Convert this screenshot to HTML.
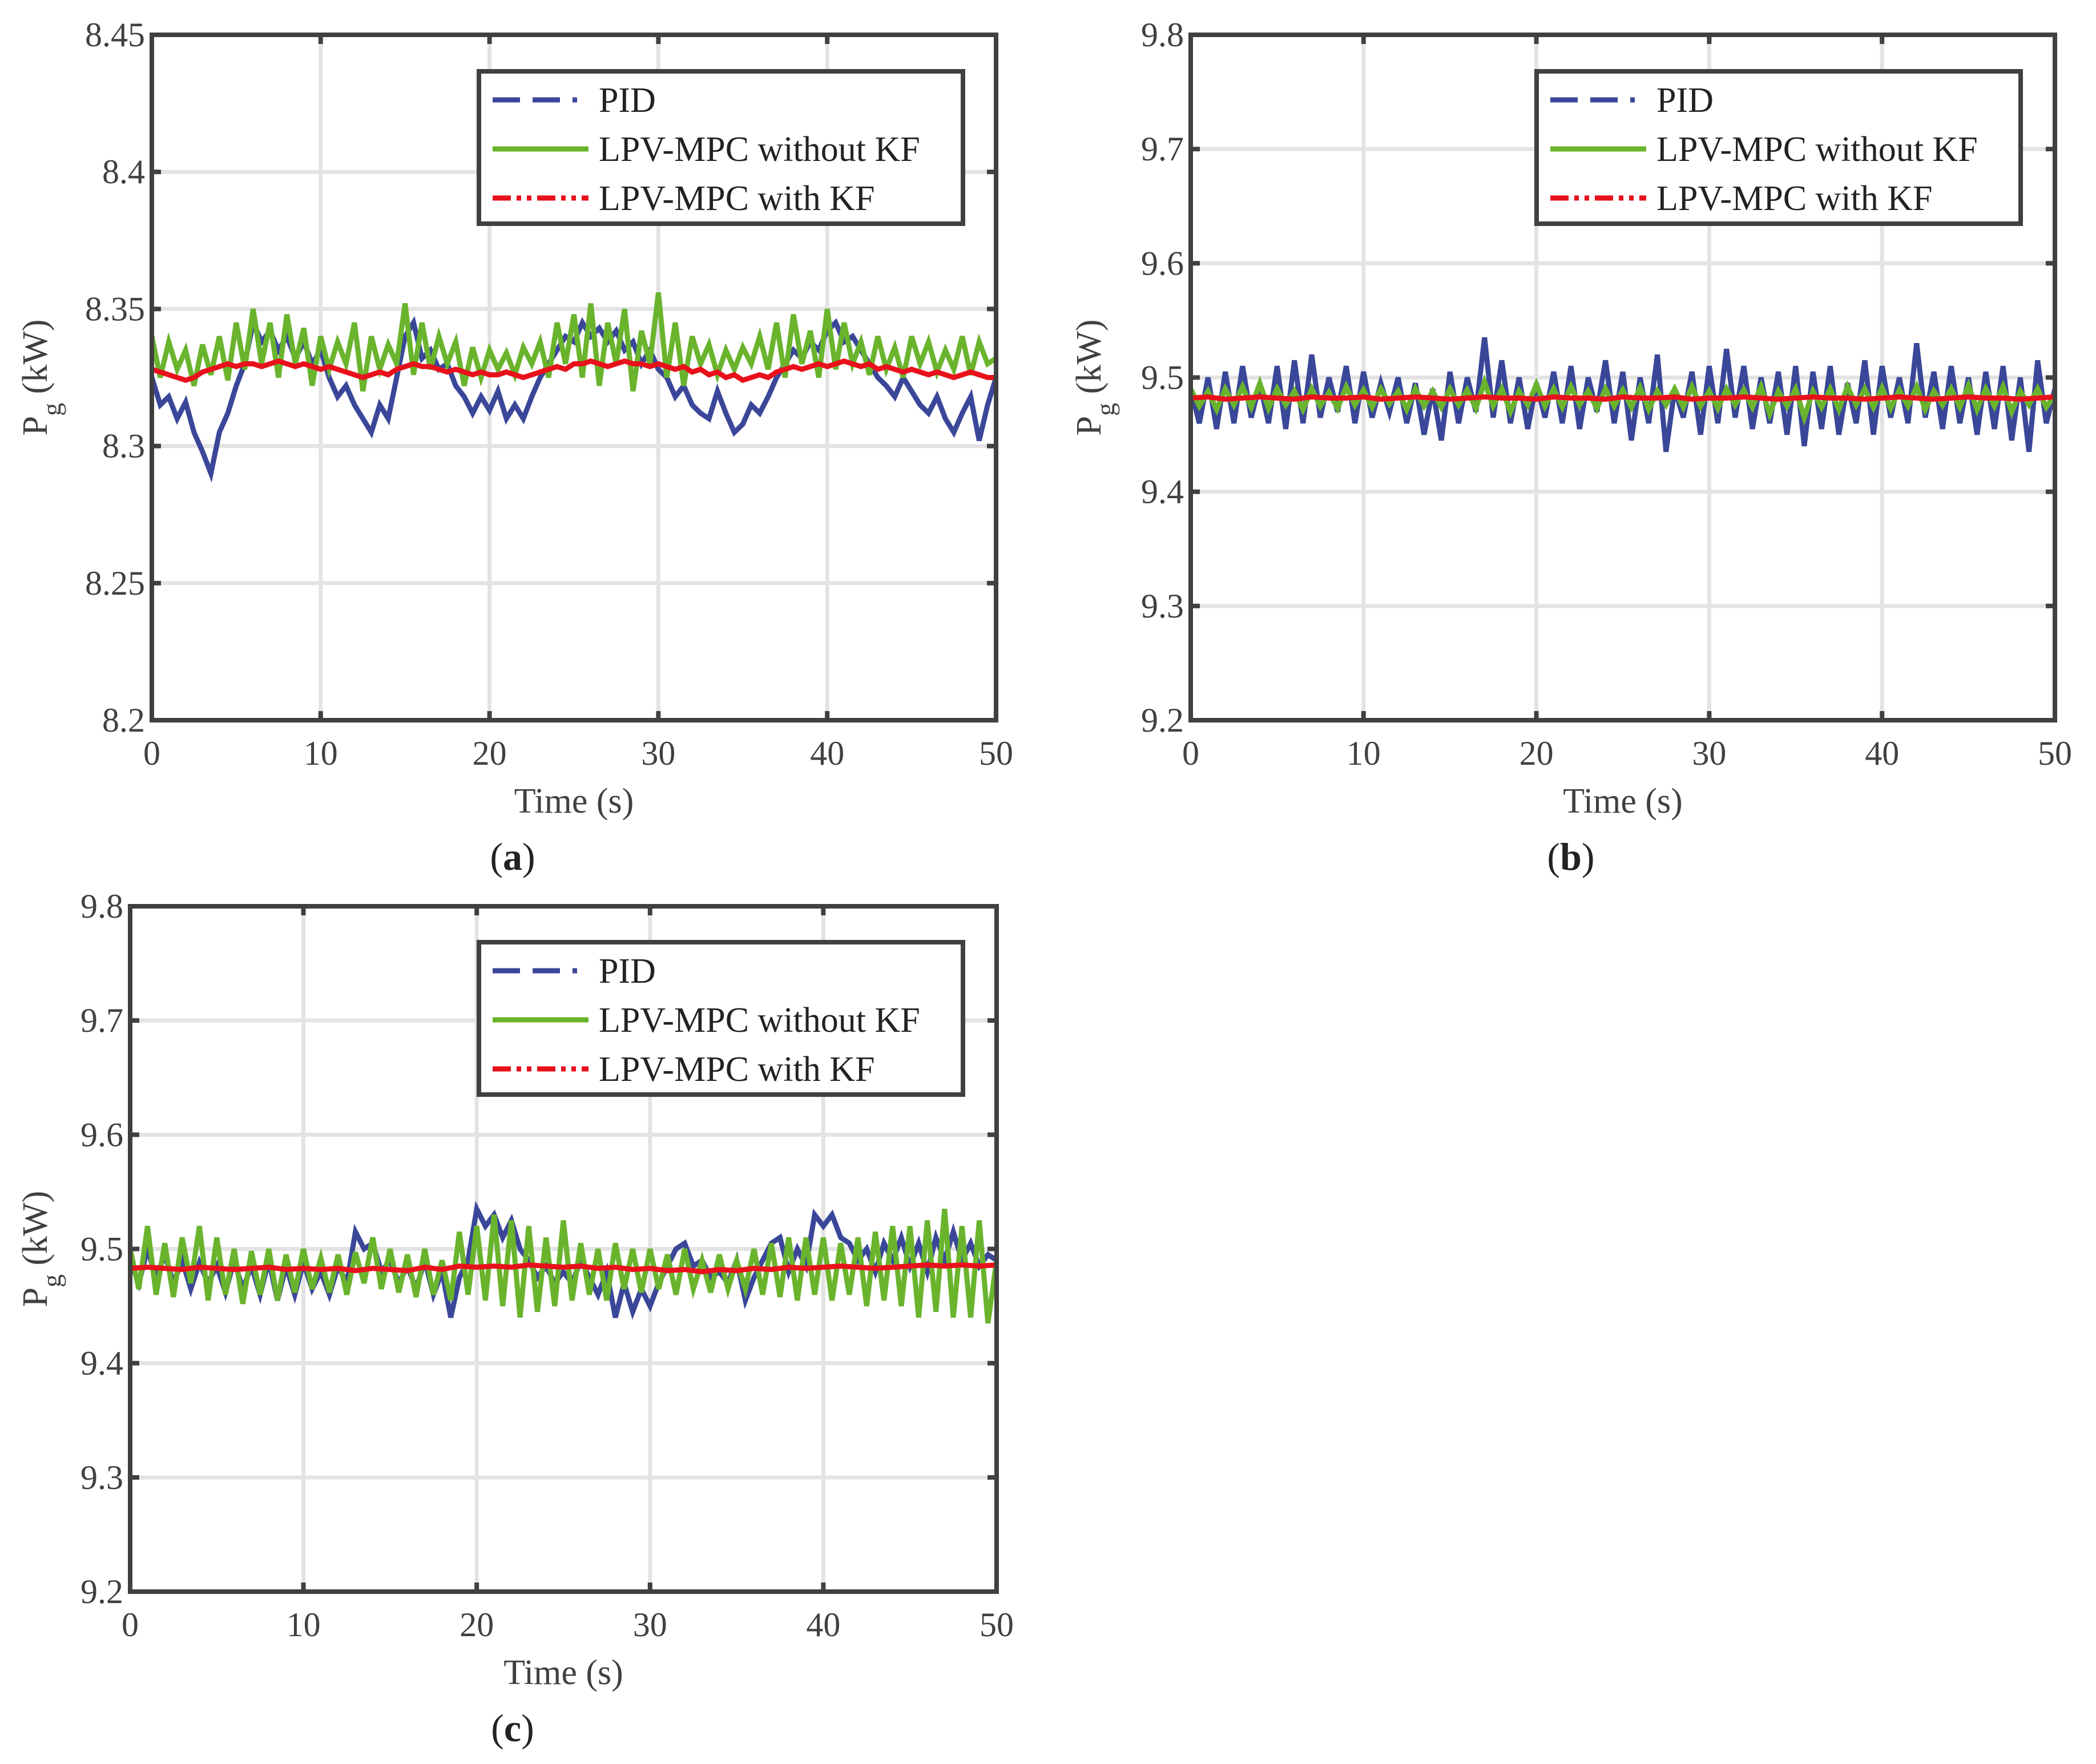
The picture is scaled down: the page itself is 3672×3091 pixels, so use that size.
<!DOCTYPE html>
<html><head><meta charset="utf-8"><style>
html,body{margin:0;padding:0;background:#fff;}
svg{display:block;}
text{font-family:"Liberation Serif","DejaVu Serif",serif;}
</style></head><body>
<svg id="fig" width="3672" height="3091" viewBox="0 0 3672 3091" xmlns="http://www.w3.org/2000/svg" font-family="Liberation Serif, serif"></svg>
<script>
const xTicks=[0,10,20,30,40,50];
const yTicksA=[8.2,8.25,8.3,8.35,8.4,8.45];
const yTickLabelsA=["8.2","8.25","8.3","8.35","8.4","8.45"];
const yTicksB=[9.2,9.3,9.4,9.5,9.6,9.7,9.8];
const yTickLabelsB=["9.2","9.3","9.4","9.5","9.6","9.7","9.8"];
const seriesNames=["PID","LPV-MPC without KF","LPV-MPC with KF"];

const pidA=[8.325,8.315,8.318,8.31,8.316,8.305,8.298,8.29,8.305,8.312,8.322,
8.33,8.345,8.338,8.342,8.335,8.34,8.332,8.338,8.33,8.335,
8.325,8.318,8.322,8.315,8.31,8.305,8.315,8.31,8.325,8.34,
8.345,8.332,8.335,8.328,8.33,8.322,8.318,8.312,8.318,8.313,
8.32,8.31,8.315,8.31,8.318,8.325,8.33,8.335,8.34,8.338,
8.345,8.34,8.343,8.338,8.342,8.335,8.338,8.33,8.335,8.328,
8.325,8.318,8.322,8.315,8.312,8.31,8.32,8.312,8.305,8.308,
8.315,8.312,8.318,8.325,8.33,8.335,8.332,8.338,8.335,8.342,
8.345,8.338,8.34,8.335,8.33,8.325,8.322,8.318,8.325,8.32,
8.315,8.312,8.318,8.31,8.305,8.312,8.318,8.302,8.315,8.325];
const greenA=[8.34,8.325,8.338,8.328,8.335,8.322,8.337,8.326,8.34,8.324,8.345,
8.328,8.35,8.33,8.345,8.325,8.348,8.33,8.343,8.322,8.34,
8.328,8.338,8.33,8.345,8.32,8.34,8.328,8.337,8.33,8.352,
8.326,8.345,8.328,8.34,8.33,8.338,8.322,8.336,8.325,8.335,
8.328,8.334,8.326,8.336,8.33,8.338,8.325,8.345,8.33,8.348,
8.325,8.352,8.322,8.345,8.33,8.35,8.32,8.342,8.33,8.356,
8.325,8.345,8.322,8.34,8.33,8.337,8.326,8.335,8.328,8.336,
8.33,8.34,8.328,8.345,8.325,8.348,8.33,8.342,8.325,8.35,
8.328,8.345,8.33,8.338,8.326,8.34,8.328,8.336,8.325,8.34,
8.33,8.338,8.327,8.335,8.328,8.34,8.326,8.338,8.33,8.332];
const redA=[8.328,8.327,8.326,8.325,8.324,8.325,8.327,8.328,8.329,8.33,8.329,
8.33,8.33,8.329,8.33,8.331,8.33,8.329,8.33,8.329,8.328,
8.329,8.328,8.327,8.326,8.325,8.326,8.327,8.326,8.328,8.329,
8.33,8.329,8.329,8.328,8.327,8.328,8.327,8.326,8.327,8.326,
8.326,8.327,8.326,8.325,8.326,8.327,8.328,8.329,8.328,8.33,
8.33,8.331,8.33,8.329,8.33,8.331,8.33,8.33,8.329,8.33,
8.329,8.328,8.329,8.327,8.328,8.326,8.327,8.325,8.326,8.324,
8.325,8.326,8.325,8.327,8.328,8.329,8.328,8.329,8.33,8.329,
8.33,8.331,8.33,8.329,8.33,8.328,8.329,8.328,8.327,8.328,
8.327,8.326,8.327,8.326,8.325,8.326,8.327,8.326,8.325,8.325];

const pidB=[9.49,9.46,9.5,9.455,9.505,9.46,9.51,9.465,9.495,9.46,9.51,
9.455,9.515,9.46,9.52,9.465,9.5,9.47,9.51,9.46,9.505,
9.465,9.495,9.47,9.5,9.46,9.495,9.45,9.49,9.445,9.505,
9.46,9.5,9.47,9.535,9.465,9.515,9.46,9.5,9.455,9.495,
9.465,9.505,9.46,9.51,9.455,9.5,9.47,9.515,9.46,9.505,
9.445,9.5,9.46,9.52,9.435,9.49,9.465,9.505,9.45,9.51,
9.46,9.525,9.465,9.51,9.455,9.5,9.46,9.505,9.45,9.51,
9.44,9.505,9.455,9.51,9.45,9.495,9.46,9.515,9.45,9.51,
9.465,9.5,9.46,9.53,9.465,9.505,9.455,9.51,9.46,9.5,
9.45,9.505,9.455,9.51,9.445,9.5,9.435,9.515,9.46,9.49];
const greenB=[9.49,9.475,9.488,9.472,9.49,9.476,9.492,9.474,9.495,9.473,9.49,
9.476,9.488,9.472,9.49,9.475,9.487,9.473,9.492,9.476,9.489,
9.474,9.49,9.477,9.488,9.472,9.49,9.475,9.488,9.474,9.49,
9.476,9.489,9.473,9.496,9.475,9.49,9.47,9.488,9.476,9.494,
9.475,9.49,9.474,9.492,9.476,9.488,9.473,9.49,9.475,9.489,
9.474,9.491,9.472,9.488,9.476,9.49,9.474,9.492,9.475,9.488,
9.473,9.49,9.476,9.489,9.474,9.492,9.468,9.488,9.475,9.49,
9.465,9.488,9.474,9.49,9.472,9.492,9.476,9.49,9.474,9.491,
9.473,9.489,9.475,9.492,9.472,9.488,9.476,9.49,9.474,9.493,
9.472,9.49,9.475,9.492,9.47,9.488,9.476,9.49,9.474,9.485];
const redB=[9.482,9.483,9.481,9.482,9.483,9.482,9.481,9.483,9.482,9.482,9.483,
9.481,9.482,9.483,9.482,9.481,9.482,9.483,9.482,9.482,9.481,
9.483,9.482,9.482,9.481,9.483,9.482,9.482,9.483,9.481,9.482,
9.482,9.483,9.482,9.481,9.482,9.483,9.482,9.482,9.481,9.482,
9.483,9.482,9.481,9.482,9.483,9.482,9.482,9.481,9.482,9.483];

const pidC=[9.49,9.47,9.5,9.475,9.495,9.47,9.49,9.465,9.488,9.47,9.485,
9.462,9.49,9.465,9.485,9.46,9.49,9.455,9.485,9.46,9.488,
9.465,9.48,9.46,9.485,9.47,9.515,9.5,9.505,9.48,9.49,
9.47,9.485,9.465,9.49,9.46,9.48,9.44,9.475,9.49,9.535,
9.52,9.53,9.51,9.525,9.5,9.49,9.475,9.485,9.47,9.48,
9.47,9.49,9.475,9.46,9.48,9.44,9.47,9.445,9.465,9.45,
9.47,9.485,9.5,9.505,9.485,9.49,9.475,9.48,9.47,9.49,
9.455,9.475,9.49,9.505,9.51,9.48,9.5,9.485,9.53,9.52,
9.53,9.51,9.505,9.49,9.5,9.48,9.505,9.49,9.51,9.485,
9.505,9.48,9.51,9.49,9.515,9.49,9.505,9.485,9.495,9.49];
const greenC=[9.5,9.465,9.52,9.46,9.505,9.458,9.51,9.47,9.52,9.455,9.51,
9.46,9.5,9.452,9.498,9.46,9.5,9.455,9.495,9.462,9.5,
9.465,9.492,9.462,9.495,9.46,9.497,9.47,9.51,9.465,9.5,
9.462,9.495,9.458,9.5,9.46,9.49,9.455,9.515,9.46,9.52,
9.455,9.53,9.45,9.525,9.44,9.52,9.445,9.51,9.45,9.525,
9.455,9.505,9.46,9.5,9.455,9.505,9.465,9.5,9.462,9.5,
9.465,9.495,9.46,9.5,9.465,9.49,9.462,9.495,9.465,9.49,
9.465,9.5,9.46,9.505,9.458,9.51,9.455,9.51,9.46,9.51,
9.455,9.505,9.46,9.51,9.45,9.515,9.455,9.52,9.45,9.52,
9.44,9.525,9.445,9.535,9.44,9.52,9.44,9.525,9.435,9.49];
const redC=[9.483,9.484,9.483,9.482,9.484,9.483,9.482,9.483,9.484,9.482,9.483,
9.482,9.483,9.481,9.483,9.482,9.481,9.484,9.482,9.485,9.484,
9.485,9.484,9.486,9.485,9.484,9.485,9.483,9.484,9.482,9.483,
9.481,9.482,9.48,9.482,9.481,9.483,9.482,9.484,9.483,9.484,
9.485,9.484,9.483,9.484,9.485,9.486,9.485,9.486,9.485,9.486];

const NS="http://www.w3.org/2000/svg";
const svg=document.getElementById('fig');
const FF='Liberation Serif, serif';
function mk(tag,attrs,parent){const e=document.createElementNS(NS,tag);for(const k in attrs)e.setAttribute(k,attrs[k]);if(tag==='text')e.setAttribute('font-family',FF);(parent||svg).appendChild(e);return e;}

function drawPanel(p){
  const g=mk('g',{});
  
  
  const L=p.x0,R=p.x1,T=p.y0,B=p.y1;
  const xs=v=>L+(v-0)/(50-0)*(R-L);
  const ys=v=>B-(v-p.ymin)/(p.ymax-p.ymin)*(B-T);
  const grid=mk('g',{},g);
  
  
  xTicks.forEach(t=>{if(t>0&&t<50)mk('line',{x1:xs(t),x2:xs(t),y1:T,y2:B,stroke:'#e3e3e3','stroke-width':7},grid);});
  p.yt.forEach(t=>{const y=ys(t);if(y>T+2&&y<B-2)mk('line',{x1:L,x2:R,y1:y,y2:y,stroke:'#e3e3e3','stroke-width':7},grid);});
  const clipId='clip'+p.id;
  const cp=mk('clipPath',{id:clipId},g);mk('rect',{x:L,y:T,width:R-L,height:B-T},cp);
  const sg=mk('g',{'clip-path':'url(#'+clipId+')'},g);
  const defs=[{d:p.pid,c:'#3a4799',dash:'',name:'pid-line'},{d:p.green,c:'#6ab42d',dash:'',name:'mpc-without-kf-line'},{d:p.red,c:'#e8111b',dash:'',name:'mpc-with-kf-line'}];
  defs.forEach(s=>{
    const n=s.d.length;
    const pts=s.d.map((v,i)=>xs(i*50/(n-1)).toFixed(1)+','+ys(v).toFixed(1)).join(' ');
    const pl=mk('polyline',{points:pts,fill:'none',stroke:s.c,'stroke-width':9,'stroke-linejoin':'miter','stroke-dasharray':s.dash},sg);
    
    
  });
  xTicks.forEach(t=>{const x=xs(t);mk('line',{x1:x,x2:x,y1:B,y2:B-16,stroke:'#404040','stroke-width':8},g);mk('line',{x1:x,x2:x,y1:T,y2:T+16,stroke:'#404040','stroke-width':8},g);
    const tx=mk('text',{x:x,y:B+78,'text-anchor':'middle','font-size':60,fill:'#404040'},g);tx.textContent=t;
    
    });
  p.yt.forEach((t,i)=>{const y=ys(t);mk('line',{x1:L,x2:L+16,y1:y,y2:y,stroke:'#404040','stroke-width':8},g);mk('line',{x1:R,x2:R-16,y1:y,y2:y,stroke:'#404040','stroke-width':8},g);
    const tx=mk('text',{x:L-12,y:y+20,'text-anchor':'end','font-size':60,fill:'#404040'},g);tx.textContent=p.ytl[i];
    
    });
  const box=mk('rect',{x:L,y:T,width:R-L,height:B-T,fill:'none',stroke:'#404040','stroke-width':8},g);
  
  
  const xl=mk('text',{x:(L+R)/2,y:B+162,'text-anchor':'middle','font-size':62,fill:'#404040'},g);xl.textContent='Time (s)';
  
  
  const cy=(T+B)/2;
  const yl=mk('text',{x:0,y:0,transform:'translate('+p.ylx+','+cy+') rotate(-90)','text-anchor':'middle','font-size':62,fill:'#404040'},g);
  
  
  const t1=mk('tspan',{},yl);t1.textContent='P';
  const t2=mk('tspan',{dy:24,'font-size':46},yl);t2.textContent='g';
  const t3=mk('tspan',{dy:-24},yl);t3.textContent=' (kW)';
  const cap=mk('text',{x:p.capx,y:B+262,'text-anchor':'middle','font-size':68,fill:'#222'},g);
  
  
  const c1=mk('tspan',{},cap);c1.textContent='(';
  const c2=mk('tspan',{'font-weight':'bold'},cap);c2.textContent=p.id;
  const c3=mk('tspan',{},cap);c3.textContent=')';
  const lg=mk('g',{},g);
  
  
  const lx=p.lx,ly=p.ly,lw=848,lh=267;
  mk('rect',{x:lx,y:ly,width:lw,height:lh,fill:'#fff',stroke:'#404040','stroke-width':8},lg);
  const cols=['#3a4799','#6ab42d','#e8111b'],dashes=['48,22,48,22,8','','32,10,8,10,8,10'];
  seriesNames.forEach((nm,i)=>{
    const yy=ly+50+i*86;
    const e=mk('g',{},lg);
    
    
    mk('line',{x1:lx+24,x2:lx+192,y1:yy,y2:yy,stroke:cols[i],'stroke-width':9,'stroke-dasharray':dashes[i]},e);
    const t=mk('text',{x:lx+210,y:yy+21,'font-size':62,fill:'#222'},e);t.textContent=nm;
  });
}

drawPanel({id:'a',x0:266,x1:1745,y0:61,y1:1262,ymin:8.2,ymax:8.45,yt:yTicksA,ytl:yTickLabelsA,pid:pidA,green:greenA,red:redA,ylx:82,capx:898,lx:839,ly:125});
drawPanel({id:'b',x0:2086,x1:3600,y0:61,y1:1262,ymin:9.2,ymax:9.8,yt:yTicksB,ytl:yTickLabelsB,pid:pidB,green:greenB,red:redB,ylx:1928,capx:2752,lx:2692,ly:125});
drawPanel({id:'c',x0:228,x1:1746,y0:1588,y1:2789,ymin:9.2,ymax:9.8,yt:yTicksB,ytl:yTickLabelsB,pid:pidC,green:greenC,red:redC,ylx:82,capx:898,lx:839,ly:1651});
</script>
</body></html>
